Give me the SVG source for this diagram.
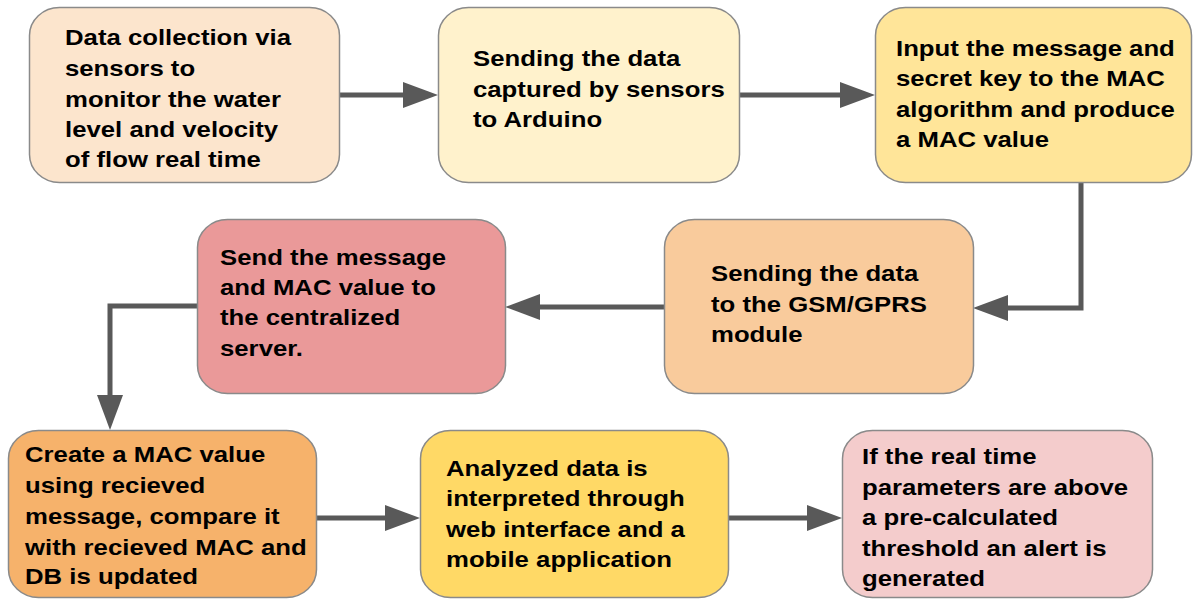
<svg xmlns="http://www.w3.org/2000/svg" width="1194" height="605" viewBox="0 0 1194 605">
<style>
.box{stroke:#8a8a8a;stroke-width:1.5}
.t{font-family:"Liberation Sans",Arial,sans-serif;font-weight:bold;font-size:22px;fill:#000}
.c{fill:none;stroke:#595959;stroke-width:5}
</style>
<defs>
<marker id="ah" markerUnits="userSpaceOnUse" markerWidth="36" markerHeight="27" refX="0" refY="13" orient="auto">
<path d="M0,0 L35,13 L0,26 z" fill="#595959"/>
</marker>
</defs>
<rect width="1194" height="605" fill="#ffffff"/>
<g id="connectors">
<path class="c" d="M340,95 H403" marker-end="url(#ah)"/>
<path class="c" d="M740,95 H840" marker-end="url(#ah)"/>
<path class="c" d="M1081,183 V308 H1008" marker-end="url(#ah)"/>
<path class="c" d="M664,307 H540" marker-end="url(#ah)"/>
<path class="c" d="M197,306 H110 V395" marker-end="url(#ah)"/>
<path class="c" d="M316,518 H385" marker-end="url(#ah)"/>
<path class="c" d="M728,518 H807" marker-end="url(#ah)"/>
</g>
<g id="n1">
<rect class="box" x="29.5" y="7.5" width="310" height="175" rx="30" ry="28" fill="#fce5cd"/>
<text class="t" transform="translate(65 0) scale(1.17 1)"><tspan x="0" y="45">Data collection via</tspan><tspan x="0" y="76">sensors to</tspan><tspan x="0" y="107">monitor the water</tspan><tspan x="0" y="137">level and velocity</tspan><tspan x="0" y="167">of flow real time</tspan></text>
</g>
<g id="n2">
<rect class="box" x="438.5" y="7.5" width="301" height="175" rx="30" ry="28" fill="#fff2cc"/>
<text class="t" transform="translate(473 0) scale(1.17 1)"><tspan x="0" y="66">Sending the data</tspan><tspan x="0" y="97">captured by sensors</tspan><tspan x="0" y="127">to Arduino</tspan></text>
</g>
<g id="n3">
<rect class="box" x="875.5" y="7.5" width="316" height="175" rx="30" ry="28" fill="#ffe599"/>
<text class="t" transform="translate(896 0) scale(1.17 1)"><tspan x="0" y="56">Input the message and</tspan><tspan x="0" y="86">secret key to the MAC</tspan><tspan x="0" y="117">algorithm and produce</tspan><tspan x="0" y="147">a MAC value</tspan></text>
</g>
<g id="n4">
<rect class="box" x="664.5" y="219.5" width="309" height="174" rx="30" ry="28" fill="#f9cb9c"/>
<text class="t" transform="translate(711 0) scale(1.17 1)"><tspan x="0" y="281">Sending the data</tspan><tspan x="0" y="312">to the GSM/GPRS</tspan><tspan x="0" y="342">module</tspan></text>
</g>
<g id="n5">
<rect class="box" x="197.5" y="219.5" width="308" height="174" rx="30" ry="28" fill="#ea9999"/>
<text class="t" transform="translate(220 0) scale(1.17 1)"><tspan x="0" y="265">Send the message</tspan><tspan x="0" y="295">and MAC value to</tspan><tspan x="0" y="325">the centralized</tspan><tspan x="0" y="356">server.</tspan></text>
</g>
<g id="n6">
<rect class="box" x="8.5" y="430.5" width="308" height="167" rx="30" ry="28" fill="#f6b26b"/>
<text class="t" transform="translate(25 0) scale(1.17 1)"><tspan x="0" y="462">Create a MAC value</tspan><tspan x="0" y="493">using recieved</tspan><tspan x="0" y="524">message, compare it</tspan><tspan x="0" y="555">with recieved MAC and</tspan><tspan x="0" y="584">DB is updated</tspan></text>
</g>
<g id="n7">
<rect class="box" x="420.5" y="430.5" width="308" height="167" rx="30" ry="28" fill="#ffd966"/>
<text class="t" transform="translate(446 0) scale(1.17 1)"><tspan x="0" y="476">Analyzed data is</tspan><tspan x="0" y="506">interpreted through</tspan><tspan x="0" y="537">web interface and a</tspan><tspan x="0" y="567">mobile application</tspan></text>
</g>
<g id="n8">
<rect class="box" x="842.5" y="430.5" width="310" height="167" rx="30" ry="28" fill="#f4cccc"/>
<text class="t" transform="translate(862 0) scale(1.17 1)"><tspan x="0" y="464">If the real time</tspan><tspan x="0" y="495">parameters are above</tspan><tspan x="0" y="525">a pre-calculated</tspan><tspan x="0" y="556">threshold an alert is</tspan><tspan x="0" y="586">generated</tspan></text>
</g>
</svg>
